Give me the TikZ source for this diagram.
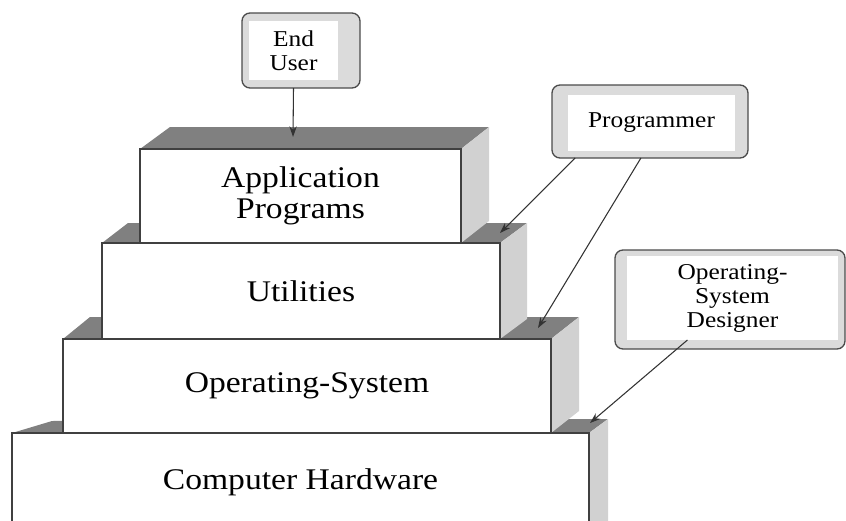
\documentclass[tikz,border=0pt]{standalone}
\usepackage{fontspec}
\setmainfont{Liberation Serif}[FakeStretch=1.12]
\usetikzlibrary{arrows.meta}
\pgfdeclarelayer{background}
\pgfsetlayers{background,main}
\newcommand\layerfont{\fontsize{22.5}{23}\selectfont}
\newcommand\rolefont{\fontsize{17}{18}\selectfont}
\tikzset{
    layer/.style={draw=black!75, line width=1.2pt, fill=white, inner sep=0pt, outer sep=0pt, align=center, font=\layerfont}, % front face of a level
    topface/.style={fill=black!50}, % dark top of a level
    sideface/.style={fill=black!18}, % light right side of a level
    rolebox/.style={draw=black!70, line width=1pt, fill=black!14, rounded corners=6pt, inner sep=0pt, outer sep=0pt},
    roletext/.style={fill=white, inner sep=0pt, outer sep=0pt, align=center, font=\rolefont},
    pointer/.style={->, >={Stealth[length=8pt,width=5.5pt]}, draw=black!80, line width=0.8pt},
}

\begin{document}
\begin{tikzpicture}[x=0.75pt, y=-0.75pt]
    \useasboundingbox (0,0) rectangle (846,521);
    \clip (0,0) rectangle (846,521);

    % Levels, from the bottom up
    \node[layer, minimum width=432.75pt, minimum height=73.5pt] (hw) at (300.5,482) {Computer Hardware};
    \begin{pgfonlayer}{background}
        \fill[topface] (hw.north west) -- (hw.north east) -- ++(19,-14) -- ++(-556,2) -- cycle;
        \fill[sideface] (hw.north east) -- ++(19,-14) -- ++(0,112) -- (hw.south east) -- cycle;
    \end{pgfonlayer}

    \node[layer, minimum width=366pt, minimum height=70.5pt] (os) at (307,386) {Operating-System};
    \begin{pgfonlayer}{background}
        \fill[topface] (os.north west) -- (os.north east) -- ++(28,-22) -- ++(-489,0) -- cycle;
        \fill[sideface] (os.north east) -- ++(28,-22) -- ++(0,94) -- (os.south east) -- cycle;
    \end{pgfonlayer}

    \node[layer, minimum width=298.5pt, minimum height=72pt] (ut) at (301,291) {Utilities};
    \begin{pgfonlayer}{background}
        \fill[topface] (ut.north west) -- (ut.north east) -- ++(27,-20) -- ++(-399,0) -- cycle;
        \fill[sideface] (ut.north east) -- ++(27,-20) -- ++(0,96) -- (ut.south east) -- cycle;
    \end{pgfonlayer}

    \node[layer, minimum width=240.75pt, minimum height=70.5pt] (ap) at (300.5,196) {Application\\Programs};
    \begin{pgfonlayer}{background}
        \fill[topface] (ap.north west) -- (ap.north east) -- ++(28,-22) -- ++(-319,0) -- cycle;
        \fill[sideface] (ap.north east) -- ++(28,-22) -- ++(0,94) -- (ap.south east) -- cycle;
    \end{pgfonlayer}

    % Points on the tops
    \coordinate (apTop) at (293,137);
    \coordinate (utTop) at (500,233);
    \coordinate (osTop) at (538,328);
    \coordinate (hwTop) at (590,423);

    % Users
    \node[rolebox, minimum width=88.5pt, minimum height=56.25pt] (euBox) at (301,50.5) {};
    \node[roletext, minimum width=66.75pt, minimum height=44.25pt] (eu) at (293.5,50.5) {End\\User};

    \node[rolebox, minimum width=147pt, minimum height=54.75pt] (prBox) at (650,121.5) {};
    \node[roletext, minimum width=125.25pt, minimum height=42pt] (pr) at (651.5,123) {Programmer};

    \node[rolebox, minimum width=172.5pt, minimum height=74.25pt] (dsBox) at (730,299.5) {};
    \node[roletext, minimum width=158.25pt, minimum height=63pt] (ds) at (732.5,298) {Operating-\\System\\Designer};

    % Arrows
    \draw[pointer] (euBox.south -| eu.south) -- (apTop);
    \draw[pointer] (prBox.206.6) -- (utTop);
    \draw[pointer] (prBox.256) -- (osTop);
    \draw[pointer] (ds.223.3) -- (hwTop);
\end{tikzpicture}
\end{document}
